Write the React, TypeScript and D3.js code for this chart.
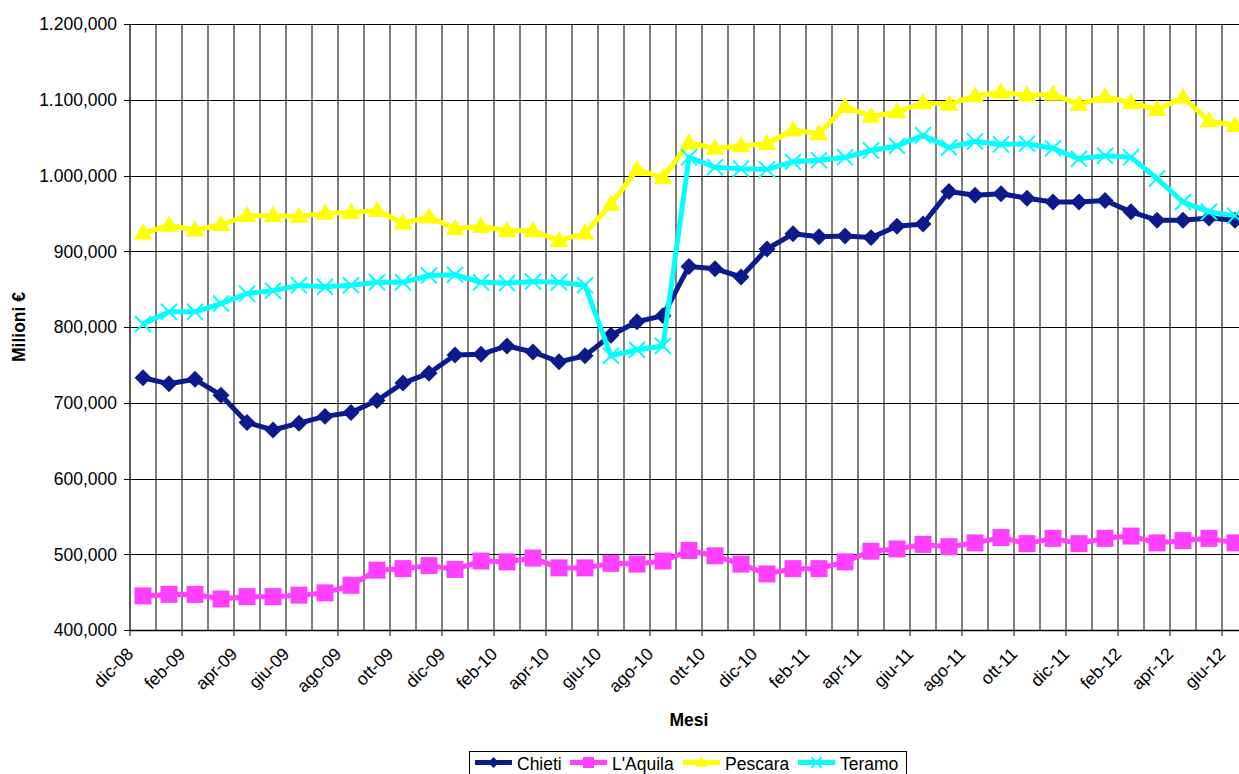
import React from 'react';
import * as d3 from 'd3';

// ---- data ----
const months = [
  'dic-08', 'gen-09', 'feb-09', 'mar-09', 'apr-09', 'mag-09', 'giu-09', 'lug-09', 'ago-09', 'set-09', 'ott-09', 'nov-09',
  'dic-09', 'gen-10', 'feb-10', 'mar-10', 'apr-10', 'mag-10', 'giu-10', 'lug-10', 'ago-10', 'set-10', 'ott-10', 'nov-10',
  'dic-10', 'gen-11', 'feb-11', 'mar-11', 'apr-11', 'mag-11', 'giu-11', 'lug-11', 'ago-11', 'set-11', 'ott-11', 'nov-11',
  'dic-11', 'gen-12', 'feb-12', 'mar-12', 'apr-12', 'mag-12', 'giu-12',
];

const chieti = [
  733, 725, 731, 710, 674, 664, 673, 682, 687, 703, 726, 739,
  763, 764, 775, 767, 754, 762, 789, 807, 815, 880, 877, 866,
  903, 923, 919, 920, 918, 933, 936, 979, 974, 976, 970, 965,
  965, 967, 952, 941, 941, 944, 941,
].map((v) => v * 1000);

const laquila = [
  445, 447, 447, 441, 444, 444, 446, 449, 459, 479, 481, 485,
  480, 491, 490, 495, 482, 482, 488, 487, 491, 505, 498, 487,
  474, 481, 481, 490, 504, 507, 513, 510, 515, 522, 514, 521,
  514, 521, 524, 515, 518, 521, 515,
].map((v) => v * 1000);

const pescara = [
  924, 934, 928, 935, 947, 947, 946, 950, 951, 954, 937, 945,
  930, 933, 927, 927, 914, 924, 962, 1008, 997, 1043, 1036, 1039,
  1042, 1060, 1055, 1091, 1078, 1084, 1096, 1094, 1105, 1110, 1106, 1107,
  1094, 1104, 1096, 1087, 1103, 1072, 1066,
].map((v) => v * 1000);

const teramo = [
  804, 820, 820, 831, 844, 848, 855, 853, 855, 859, 859, 868,
  869, 859, 858, 860, 859, 855, 762, 770, 775, 1024, 1011, 1009,
  1008, 1018, 1020, 1024, 1033, 1039, 1053, 1037, 1045, 1041, 1042, 1036,
  1022, 1026, 1024, 996, 965, 952, 947,
].map((v) => v * 1000);

const yTickValues = [400000, 500000, 600000, 700000, 800000, 900000, 1000000, 1100000, 1200000];
const yTickLabels = ['400,000', '500,000', '600,000', '700,000', '800,000', '900,000', '1.000,000', '1.100,000', '1.200,000'];

const seriesNames = ['Chieti', "L'Aquila", 'Pescara', 'Teramo'];
const seriesValues = [chieti, laquila, pescara, teramo];

// ---- styles ----
const FONT = '"Liberation Sans", Arial, Helvetica, sans-serif';
const FS = 17.5;
const styles = [
  { color: '#0B1B8C', kind: 'diamond' },
  { color: '#FF40FF', kind: 'square' },
  { color: '#FFFF00', kind: 'triangle' },
  { color: '#00FFFF', kind: 'x' },
];

const W = 1239;
const H = 774;
const LEFT = 130;
const TOP = 24;
const BOTTOM = 630;
const STEP = 26;

function markerPath(kind: string, scale: number) {
  if (kind === 'diamond') return d3.symbol().type(d3.symbolSquare).size(144 * scale * scale)()!;
  if (kind === 'square') return d3.symbol().type(d3.symbolSquare).size(289 * scale * scale)()!;
  if (kind === 'triangle') return d3.symbol().type(d3.symbolTriangle).size(150 * scale * scale)()!;
  return d3.symbol().type(d3.symbolX).size(170 * scale * scale)()!;
}

function Marker({ kind, color, x, y, scale = 1 }: any) {
  const d = markerPath(kind, scale);
  const rot = kind === 'diamond' ? ' rotate(45)' : '';
  const dy = kind === 'triangle' ? 1 * scale : 0;
  if (kind === 'x') {
    return <path d={d} transform={`translate(${x},${y})`} fill="none" stroke={color} strokeWidth={2} />;
  }
  return <path d={d} transform={`translate(${x},${y + dy})${rot}`} fill={color} stroke="none" />;
}

export default function App() {
  const x = d3.scaleBand<string>().domain(months).range([LEFT, LEFT + STEP * months.length]).padding(0);
  const cx = (m: string) => (x(m) as number) + x.bandwidth() / 2;
  const y = d3.scaleLinear().domain([400000, 1200000]).range([BOTTOM, TOP]);

  const line = d3
    .line<number>()
    .x((_, i) => cx(months[i]))
    .y((v) => y(v));

  const boundaries = months.map((m) => x(m) as number).concat([LEFT + STEP * months.length]);

  const legendX = [475, 570, 683, 798];
  const legendY = 762.5;

  return (
    <svg
      width={W}
      height={H}
      viewBox={`0 0 ${W} ${H}`}
      style={{ position: 'absolute', left: 0, top: 0, display: 'block', background: '#fff' }}
      fontFamily={FONT}
    >
      <rect x={0} y={0} width={W} height={H} fill="#fff" />
      {/* vertical gridlines */}
      {boundaries.slice(1).map((bx, i) => (
        <line key={'vg' + i} x1={bx} x2={bx} y1={TOP} y2={BOTTOM} stroke="#000" strokeWidth={1} />
      ))}
      {/* horizontal gridlines */}
      {yTickValues.map((v, i) => (
        <line
          key={'hg' + i}
          x1={LEFT}
          x2={W + 20}
          y1={Math.round(y(v)) + 0.5}
          y2={Math.round(y(v)) + 0.5}
          stroke="#000"
          strokeWidth={1}
        />
      ))}
      {/* y axis */}
      <line x1={LEFT} x2={LEFT} y1={TOP} y2={BOTTOM + 1} stroke="#000" strokeWidth={1.3} />
      {yTickValues.map((v, i) => (
        <g key={'yt' + i}>
          <line x1={LEFT - 6} x2={LEFT} y1={Math.round(y(v)) + 0.5} y2={Math.round(y(v)) + 0.5} stroke="#000" />
          <text x={117} y={y(v) + 6.3} textAnchor="end" fontSize={FS} fill="#000">
            {yTickLabels[i]}
          </text>
        </g>
      ))}
      {/* x axis */}
      <line x1={LEFT} x2={W + 20} y1={BOTTOM + 0.5} y2={BOTTOM + 0.5} stroke="#000" strokeWidth={1.3} />
      {boundaries
        .filter((_, i) => i % 2 === 0)
        .map((bx, i) => (
          <line key={'xt' + i} x1={bx} x2={bx} y1={BOTTOM} y2={BOTTOM + 6} stroke="#000" strokeWidth={1} />
        ))}
      {months.map((m, i) =>
        i % 2 === 0 ? (
          <text
            key={'xl' + i}
            transform={`translate(${cx(m) - 8.5},${655}) rotate(-45)`}
            textAnchor="end"
            fontSize={FS}
            fill="#000"
          >
            {m}
          </text>
        ) : null
      )}
      {/* series */}
      {seriesValues.map((vals, si) => (
        <g key={'s' + si}>
          <path d={line(vals)!} fill="none" stroke={styles[si].color} strokeWidth={5} strokeLinejoin="round" />
          {vals.map((v, i) => (
            <Marker key={i} kind={styles[si].kind} color={styles[si].color} x={cx(months[i])} y={y(v)} />
          ))}
        </g>
      ))}
      {/* axis titles */}
      <text transform="translate(25,327) rotate(-90)" textAnchor="middle" fontSize={FS} fontWeight="bold">
        Milioni €
      </text>
      <text x={689} y={726} textAnchor="middle" fontSize={FS} fontWeight="bold">
        Mesi
      </text>
      {/* legend */}
      <rect x={469.5} y={751.5} width={437} height={30} fill="#fff" stroke="#000" strokeWidth={1} />
      {seriesNames.map((name, si) => (
        <g key={'lg' + si}>
          <line
            x1={legendX[si]}
            x2={legendX[si] + 37}
            y1={legendY}
            y2={legendY}
            stroke={styles[si].color}
            strokeWidth={5}
          />
          <Marker kind={styles[si].kind} color={styles[si].color} x={legendX[si] + 18.5} y={legendY} scale={0.65} />
          <text x={legendX[si] + 42} y={legendY + 7.5} fontSize={FS} fill="#000">
            {name}
          </text>
        </g>
      ))}
    </svg>
  );
}
